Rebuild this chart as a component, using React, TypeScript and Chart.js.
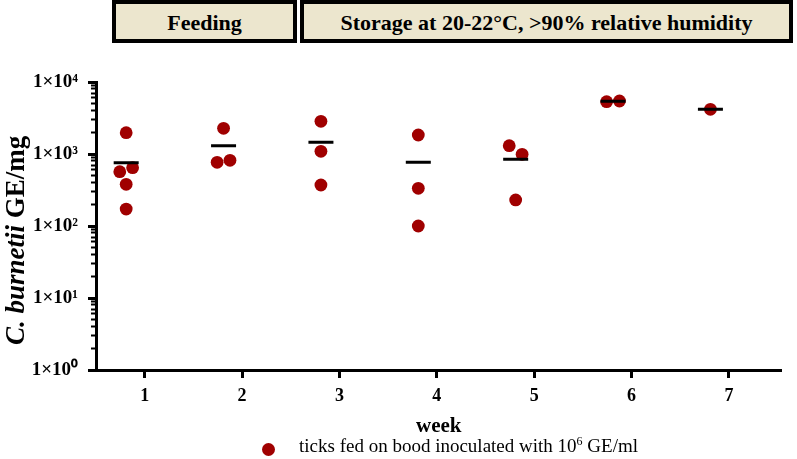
import React, { useEffect, useRef } from 'react';
import { Chart, registerables } from 'chart.js';

Chart.register(...registerables);

// ---- data ----
const WEEKS = [1, 2, 3, 4, 5, 6, 7];
const POINT_WEEK = [1, 1, 1, 1, 1, 2, 2, 2, 3, 3, 3, 4, 4, 4, 5, 5, 5, 6, 6, 7];
const POINT_VALUE = [1977, 568, 645, 379, 172, 2275, 767, 818, 2845, 1090, 371, 1836, 334, 100, 1304, 990, 230, 5327, 5450, 4178];
const POINT_JITTER = [0, -1, 1, 0, 0, 0, -1, 1, 0, 0, 0, 0, 0, 0, -1, 1, 0, -1, 1, 0];
const MEAN_VALUE = [757, 1300, 1454, 767, 844, 5390, 4178];
const Y_MAJOR_TICKS = [1, 10, 100, 1000, 10000];
const Y_TICK_LABELS = ['1×10⁰', '1×10¹', '1×10²', '1×10³', '1×10⁴'];
const Y_MINOR_MULTIPLES = [2, 3, 4, 5, 6, 7, 8, 9];
const PHASES = ['Feeding', 'Storage at 20-22°C, >90% relative humidity'];
const X_TITLE = 'week';
const LEGEND_TEXT = 'ticks fed on bood inoculated with 10';
const LEGEND_SUP = '6';
const LEGEND_TAIL = ' GE/ml';

// ---- layout / style ----
const GROUP_SHIFT = -0.19;
const JITTER_STEP = 0.066;
const SERIF = "'Liberation Serif', 'Times New Roman', Times, serif";
const RED = '#A00000';
const BEIGE = '#ECE6CE';

export default function App() {
  const ref = useRef<HTMLCanvasElement>(null);

  useEffect(() => {
    const canvas = ref.current;
    if (!canvas) return;
    const points = POINT_VALUE.map((v, i) => ({
      x: POINT_WEEK[i] + GROUP_SHIFT + POINT_JITTER[i] * JITTER_STEP,
      y: v,
    }));
    const means = MEAN_VALUE.map((v, i) => ({ x: WEEKS[i] + GROUP_SHIFT, y: v }));
    const minorTicks: number[] = [];
    for (let k = 0; k < Y_MAJOR_TICKS.length - 1; k++) {
      for (const m of Y_MINOR_MULTIPLES) minorTicks.push(m * Y_MAJOR_TICKS[k]);
    }

    const chart = new Chart(canvas, {
      type: 'scatter',
      data: {
        datasets: [
          {
            label: 'mean',
            data: means,
            pointStyle: 'line',
            pointRadius: 12.5,
            pointHoverRadius: 12.5,
            borderColor: '#000',
            backgroundColor: '#000',
            borderWidth: 3,
          },
          {
            label: 'ticks',
            data: points,
            pointStyle: 'circle',
            pointRadius: 6.4,
            pointHoverRadius: 6.4,
            backgroundColor: RED,
            borderColor: RED,
            borderWidth: 0,
          },
        ],
      },
      options: {
        animation: false,
        responsive: false,
        devicePixelRatio: 1,
        events: [],
        layout: { padding: { left: 0, top: 82, right: 9, bottom: 0 } },
        plugins: { legend: { display: false }, tooltip: { enabled: false } },
        scales: {
          x: {
            type: 'linear',
            min: 0.5,
            max: 7.54,
            afterBuildTicks: (s: any) => {
              s.ticks = WEEKS.map((v) => ({ value: v }));
            },
            afterFit: (s: any) => {
              s.height = 89;
            },
            grid: { drawOnChartArea: false, drawTicks: true, tickLength: 8, tickWidth: 3, tickColor: '#000' },
            border: { display: true, color: '#000', width: 3 },
            ticks: {
              autoSkip: false,
              maxRotation: 0,
              padding: 8,
              color: '#000',
              font: { family: SERIF, size: 18, weight: 'bold' },
              callback: (v: any) => String(v),
            },
            title: {
              display: true,
              text: X_TITLE,
              color: '#000',
              font: { family: SERIF, size: 21, weight: 'bold' },
              padding: { top: 0, bottom: 20 },
            },
          },
          y: {
            type: 'logarithmic',
            position: 'left',
            min: 1,
            max: 10000,
            weight: 1,
            afterBuildTicks: (s: any) => {
              s.ticks = Y_MAJOR_TICKS.map((v) => ({ value: v, major: true }));
            },
            afterFit: (s: any) => {
              s.width = 96;
            },
            grid: { drawOnChartArea: false, drawTicks: true, tickLength: 8, tickWidth: 3, tickColor: '#000' },
            border: { display: true, color: '#000', width: 3 },
            ticks: {
              autoSkip: false,
              padding: 10,
              color: '#000',
              font: { family: SERIF, size: 19, weight: 'bold' },
              callback: (_v: any, i: number) => Y_TICK_LABELS[i] ?? '',
            },
          },
          yMinor: {
            type: 'logarithmic',
            position: 'left',
            min: 1,
            max: 10000,
            weight: 0,
            afterBuildTicks: (s: any) => {
              s.ticks = minorTicks.map((v) => ({ value: v }));
            },
            afterFit: (s: any) => {
              s.width = 0;
            },
            grid: { drawOnChartArea: false, drawTicks: true, tickLength: 5, tickWidth: 2, tickColor: '#000' },
            border: { display: false },
            ticks: { display: false },
          },
        },
      } as any,
    });
    return () => chart.destroy();
  }, []);

  const boxBase: React.CSSProperties = {
    position: 'absolute',
    top: 0,
    height: 43,
    boxSizing: 'border-box',
    border: '4px solid #000',
    background: BEIGE,
    display: 'flex',
    alignItems: 'center',
    justifyContent: 'center',
    paddingTop: 3,
    font: `bold 22px ${SERIF}`,
    color: '#000',
    whiteSpace: 'nowrap',
  };

  return (
    <div style={{ position: 'fixed', left: 0, top: 0, width: 797, height: 459, background: '#fff', overflow: 'hidden' }}>
      <canvas ref={ref} width={797} height={459} style={{ position: 'absolute', left: 0, top: 0, width: 797, height: 459 }} />
      <div style={{ ...boxBase, left: 112, width: 185 }}>{PHASES[0]}</div>
      <div style={{ ...boxBase, left: 300, width: 493 }}>{PHASES[1]}</div>
      <div
        style={{
          position: 'absolute',
          left: 0,
          top: 0,
          transformOrigin: '0 0',
          transform: 'translate(2px, 345px) rotate(-90deg)',
          whiteSpace: 'nowrap',
          font: `bold 27px/27px ${SERIF}`,
          color: '#000',
        }}
      >
        <i>C. burnetii</i> GE/mg
      </div>
      <div
        style={{ position: 'absolute', left: 262, top: 443, width: 13, height: 13, borderRadius: '50%', background: RED }}
      />
      <div
        style={{
          position: 'absolute',
          left: 299,
          top: 436,
          whiteSpace: 'nowrap',
          font: `19px/19px ${SERIF}`,
          color: '#000',
        }}
      >
        {LEGEND_TEXT}
        <span style={{ position: 'relative', top: -7, fontSize: 12 }}>{LEGEND_SUP}</span>
        {LEGEND_TAIL}
      </div>
    </div>
  );
}
